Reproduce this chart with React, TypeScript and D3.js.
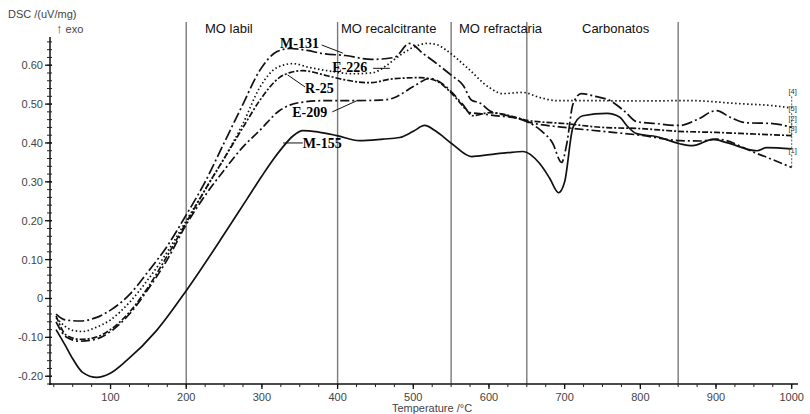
import React from "react";
import * as d3 from "d3";

// DSC curves: temperature (°C) and heat flow (uV/mg)
const m131T = [28, 40, 60, 80, 100, 125, 150, 175, 200, 225, 250, 275, 297, 320, 337, 360, 380, 410, 445, 475, 495, 513, 531, 551, 566, 577, 588, 601, 625, 650, 670, 684, 696, 703, 711, 722, 740, 760, 780, 795, 820, 852, 875, 900, 920, 940, 975, 1000];
const m131V = [-0.04, -0.055, -0.058, -0.05, -0.03, 0.01, 0.07, 0.135, 0.215, 0.3, 0.4, 0.5, 0.586, 0.635, 0.643, 0.638, 0.63, 0.625, 0.615, 0.62, 0.656, 0.63, 0.604, 0.573, 0.548, 0.51, 0.503, 0.483, 0.47, 0.455, 0.43, 0.4, 0.35, 0.4, 0.5, 0.527, 0.52, 0.509, 0.48, 0.455, 0.45, 0.445, 0.46, 0.483, 0.465, 0.452, 0.45, 0.44];

const e226T = [28, 50, 63, 80, 100, 125, 150, 175, 200, 225, 250, 275, 297, 320, 341, 363, 386, 421, 447, 465, 482, 499, 518, 531, 544, 571, 601, 618, 645, 667, 690, 720, 800, 865, 931, 975, 1000];
const e226V = [-0.05, -0.082, -0.085, -0.075, -0.055, -0.01, 0.05, 0.12, 0.2, 0.28, 0.36, 0.45, 0.542, 0.594, 0.604, 0.594, 0.586, 0.578, 0.581, 0.6, 0.625, 0.645, 0.656, 0.653, 0.638, 0.594, 0.542, 0.527, 0.53, 0.517, 0.509, 0.509, 0.508, 0.509, 0.501, 0.496, 0.49];

const r25T = [28, 42, 60, 80, 100, 125, 150, 175, 200, 225, 250, 275, 297, 323, 337, 354, 386, 408, 443, 473, 509, 530, 551, 571, 578, 601, 641, 650, 700, 750, 800, 850, 901, 950, 1000];
const r25V = [-0.045, -0.095, -0.105, -0.1, -0.08, -0.035, 0.03, 0.11, 0.195, 0.28, 0.36, 0.44, 0.509, 0.568, 0.581, 0.586, 0.573, 0.563, 0.555, 0.565, 0.568, 0.56, 0.527, 0.483, 0.47, 0.478, 0.463, 0.458, 0.45, 0.44, 0.437, 0.43, 0.427, 0.423, 0.419];

const e209T = [28, 42, 60, 80, 100, 125, 150, 175, 200, 225, 250, 275, 297, 323, 350, 386, 425, 456, 473, 500, 522, 540, 551, 565, 575, 590, 601, 641, 650, 700, 750, 800, 852, 880, 900, 954, 1000];
const e209V = [-0.06, -0.1, -0.11, -0.105, -0.085, -0.04, 0.025, 0.1, 0.19, 0.265, 0.33, 0.39, 0.432, 0.483, 0.504, 0.509, 0.509, 0.51, 0.515, 0.545, 0.566, 0.55, 0.53, 0.5, 0.478, 0.475, 0.472, 0.462, 0.455, 0.44, 0.43, 0.42, 0.406, 0.405, 0.41, 0.373, 0.337];

const m155T = [28, 40, 50, 63, 82, 99, 121, 161, 200, 250, 280, 300, 314, 327, 341, 354, 375, 399, 429, 460, 482, 500, 515, 530, 551, 577, 601, 625, 645, 667, 680, 692, 700, 711, 724, 756, 773, 782, 795, 822, 852, 869, 896, 914, 954, 967, 1000];
const m155V = [-0.08, -0.12, -0.155, -0.19, -0.203, -0.193, -0.16, -0.082, 0.02, 0.165, 0.255, 0.315, 0.355, 0.388, 0.418, 0.432, 0.428, 0.419, 0.406, 0.41, 0.414, 0.43, 0.445, 0.43, 0.398, 0.365, 0.37, 0.375, 0.378, 0.347, 0.31, 0.272, 0.3, 0.44, 0.47, 0.476, 0.466, 0.445, 0.424, 0.416, 0.398, 0.393, 0.409, 0.401, 0.38, 0.388, 0.385];

const seriesNames = ["M-131", "E-226", "R-25", "E-209", "M-155"];
const seriesDash = ["11,3,2,3", "1.5,2.5", "6,2,2,2", "9,3,2,3", ""];
const seriesTemps = [m131T, e226T, r25T, e209T, m155T];
const seriesValues = [m131V, e226V, r25V, e209V, m155V];

// end-of-curve tags, top to bottom, and the series each one marks
const endTags = ["[4]", "[5]", "[2]", "[3]", "[1]"];
const endTagSeries = [1, 0, 2, 4, 3];
const endTagLevels = [0.525, 0.482, 0.457, 0.432, 0.375];

// temperature regions
const regionBounds = [200, 400, 550, 650, 850];
const regionNames = ["MO labil", "MO recalcitrante", "MO refractaria", "Carbonatos"];
const regionLabelX = [205, 341, 459, 582];

// series name callouts: text anchor and the leader from text to curve
const calloutT = [324, 393, 357, 340, 354];
const calloutV = [0.644, 0.583, 0.529, 0.466, 0.387];
const leaderFromT = [379, 447, 357, 393, 328];
const leaderFromV = [0.652, 0.592, 0.544, 0.48, 0.4];
const leaderToT = [407, 469, 334, 427, 354];
const leaderToV = [0.631, 0.592, 0.575, 0.51, 0.4];

const yTicks = [-0.2, -0.1, 0, 0.1, 0.2, 0.3, 0.4, 0.5, 0.6];
const xTicks = [100, 200, 300, 400, 500, 600, 700, 800, 900, 1000];

export default function App() {
  const W = 810;
  const H = 414;
  const x = d3.scaleLinear().domain([20, 1007]).range([50, 797]);
  const y = d3.scaleLinear().domain([-0.22, 0.67]).range([384, 38]);
  const axisFont = "'Liberation Sans', Arial, sans-serif";

  const line = d3
    .line<[number, number]>()
    .x((d) => x(d[0]))
    .y((d) => y(d[1]))
    .curve(d3.curveMonotoneX);

  const minorY = d3.range(-0.22, 0.665, 0.02);
  const minorX = d3.range(25, 1001, 25);

  const fmtY = (v: number) => (Math.abs(v) < 1e-9 ? "0" : v.toFixed(2));

  return (
    <svg
      width={W}
      height={H}
      style={{ position: "absolute", left: 0, top: 0, background: "#fff" }}
    >
      {/* region dividers */}
      {regionBounds.map((t) => (
        <line
          key={t}
          x1={x(t)}
          x2={x(t)}
          y1={22}
          y2={y(-0.22)}
          stroke="#7a7a7a"
          strokeWidth={1.4}
        />
      ))}
      {regionNames.map((n, i) => (
        <text
          key={n}
          x={regionLabelX[i]}
          y={33}
          fontFamily={axisFont}
          fontSize={13}
          fill="#111"
        >
          {n}
        </text>
      ))}

      {/* curves */}
      {seriesNames.map((n, i) => (
        <path
          key={n}
          d={line(seriesTemps[i].map((t, k) => [t, seriesValues[i][k]] as [number, number])) || ""}
          fill="none"
          stroke="#111"
          strokeWidth={1.7}
          strokeDasharray={seriesDash[i] || undefined}
        />
      ))}

      {/* name callouts */}
      {seriesNames.map((n, i) => (
        <g key={n}>
          <line
            x1={x(leaderFromT[i])}
            y1={y(leaderFromV[i])}
            x2={x(leaderToT[i])}
            y2={y(leaderToV[i])}
            stroke="#111"
            strokeWidth={1}
          />
          <text
            x={x(calloutT[i])}
            y={y(calloutV[i])}
            fontFamily="'Liberation Serif', 'Times New Roman', serif"
            fontWeight="bold"
            fontSize={14}
            fill="#000"
          >
            {n}
          </text>
        </g>
      ))}

      {/* end tags */}
      {endTags.map((tag, i) => {
        const s = endTagSeries[i];
        const vals = seriesValues[s];
        const endV = vals[vals.length - 1];
        const ty = y(endTagLevels[i]);
        return (
          <g key={tag}>
            <line
              x1={x(1000)}
              x2={x(1000)}
              y1={ty + 2}
              y2={y(endV)}
              stroke="#333"
              strokeWidth={0.8}
              strokeDasharray="2,1.5"
            />
            <text
              x={x(1000) + 1}
              y={ty}
              textAnchor="middle"
              fontFamily={axisFont}
              fontSize={7.5}
              fill="#333"
            >
              {tag}
            </text>
          </g>
        );
      })}

      {/* y axis */}
      <line x1={50} x2={50} y1={37} y2={385} stroke="#111" strokeWidth={1.5} />
      {minorY.map((v, i) => (
        <line key={i} x1={47} x2={52} y1={y(v)} y2={y(v)} stroke="#222" strokeWidth={1} />
      ))}
      {yTicks.map((v) => (
        <g key={v}>
          <line x1={45} x2={52} y1={y(v)} y2={y(v)} stroke="#111" strokeWidth={1.3} />
          <text
            x={43}
            y={y(v) + 4}
            textAnchor="end"
            fontFamily={axisFont}
            fontSize={11}
            fill="#444"
          >
            {fmtY(v)}
          </text>
        </g>
      ))}
      <text x={8} y={18} fontFamily={axisFont} fontSize={11} fill="#444">
        DSC /(uV/mg)
      </text>
      <text x={56} y={33} fontFamily={axisFont} fontSize={11} fill="#444">
        <tspan fontSize={13}>↑</tspan> exo
      </text>

      {/* x axis */}
      <line x1={49} x2={798} y1={384} y2={384} stroke="#111" strokeWidth={1.5} />
      {minorX.map((t) => (
        <line key={t} x1={x(t)} x2={x(t)} y1={384} y2={387} stroke="#222" strokeWidth={1} />
      ))}
      {xTicks.map((t) => (
        <g key={t}>
          <line x1={x(t)} x2={x(t)} y1={384} y2={389} stroke="#111" strokeWidth={1.3} />
          <text
            x={x(t)}
            y={401}
            textAnchor="middle"
            fontFamily={axisFont}
            fontSize={11}
            fill="#444"
          >
            {t}
          </text>
        </g>
      ))}
      <text
        x={432}
        y={412}
        textAnchor="middle"
        fontFamily={axisFont}
        fontSize={11}
        fill="#444"
      >
        Temperature /°C
      </text>
    </svg>
  );
}
